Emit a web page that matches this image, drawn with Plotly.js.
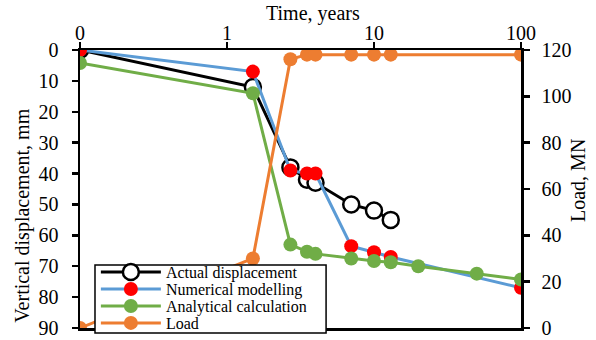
<!DOCTYPE html>
<html>
<head>
<meta charset="utf-8">
<script src="https://cdn.plot.ly/plotly-3.0.1.min.js"></script>
<style>html,body{margin:0;padding:0;background:#fff;}#chart{width:596px;height:340px;}</style>
</head>
<body>
<div id="chart"></div>
<script>
// Data (time in years, displacement in mm, load in MN)
const actualTime = [0.1, 1.5, 2.7, 3.5, 4, 7, 10, 13];
const actualDisp = [0, 12, 38, 42, 43, 50, 52, 55];

const numTime = [0.1, 1.5, 2.7, 3.5, 4, 7, 10, 13, 100];
const numDisp = [0, 7, 39, 40, 40, 63.5, 65.5, 67, 77];

const anaTime = [0.1, 1.5, 2.7, 3.5, 4, 7, 10, 13, 20, 50, 100];
const anaDisp = [4.2, 14, 63, 65.3, 66, 67.5, 68.3, 68.7, 70, 72.4, 74.3];

const loadTime = [0.1, 1.5, 2.7, 3.5, 4, 7, 10, 13, 100];
const loadVal = [0, 30, 116, 118, 118, 118, 118, 118, 118];

const xTickVals = [0.1, 1, 10, 100];
const xTickText = ['0', '1', '10', '100'];

const F = 'Liberation Serif';

const traces = [
  {x: actualTime, y: actualDisp, name: 'Actual displacement', mode: 'lines+markers',
   line: {color: '#000000', width: 3},
   marker: {symbol: 'circle', size: 16, color: '#ffffff', line: {color: '#000000', width: 2.5}},
   xaxis: 'x', yaxis: 'y', legend: 'legend'},
  {x: numTime, y: numDisp, name: 'Numerical modelling', mode: 'lines+markers',
   line: {color: '#5B9BD5', width: 3},
   marker: {symbol: 'circle', size: 14, color: '#FF0000'},
   xaxis: 'x', yaxis: 'y', legend: 'legend2'},
  {x: anaTime, y: anaDisp, name: 'Analytical calculation', mode: 'lines+markers',
   line: {color: '#70AD47', width: 3},
   marker: {symbol: 'circle', size: 14, color: '#70AD47'},
   xaxis: 'x', yaxis: 'y', legend: 'legend3'},
  {x: loadTime, y: loadVal, name: 'Load', mode: 'lines+markers',
   line: {color: '#ED7D31', width: 3},
   marker: {symbol: 'circle', size: 14, color: '#ED7D31'},
   xaxis: 'x', yaxis: 'y2', legend: 'legend4'}
];

const tf = {family: F, size: 20, color: '#000'};
const titleFont = {family: F, size: 20, color: '#000'};
const axLine = {showline: true, linecolor: '#000', linewidth: 2.5, showgrid: false, zeroline: false,
  tickcolor: '#000', tickwidth: 2.5, ticklen: 6};

function legendAt(yPaper) {
  return {x: 0.036, y: yPaper, xanchor: 'left', yanchor: 'middle',
    bgcolor: 'rgba(0,0,0,0)', borderwidth: 0,
    font: {family: F, size: 16, color: '#000'}, itemwidth: 60};
}

const layout = {
  width: 596, height: 340,
  margin: {l: 80, r: 75, t: 50, b: 12, pad: 0, autoexpand: false},
  paper_bgcolor: '#fff', plot_bgcolor: '#fff',
  font: {family: F, size: 20, color: '#000'},
  showlegend: true,
  legend: legendAt(0.201),
  legend2: legendAt(0.140),
  legend3: legendAt(0.079),
  legend4: legendAt(0.018),
  shapes: [{type: 'rect', xref: 'paper', yref: 'paper', x0: 0.034, x1: 0.558, y0: -0.018, y1: 0.227,
    fillcolor: '#ffffff', line: {color: '#000', width: 1.5}, layer: 'above'}],
  annotations: [
    {text: 'Time, years', xref: 'paper', yref: 'paper', x: 0.528, y: 1.133, xanchor: 'center', yanchor: 'middle',
     showarrow: false, font: titleFont},
    {text: 'Vertical displacement, mm', xref: 'paper', yref: 'paper', x: -0.130, y: 0.403, xanchor: 'center', yanchor: 'middle',
     textangle: -90, showarrow: false, font: titleFont},
    {text: 'Load, MN', xref: 'paper', yref: 'paper', x: 1.129, y: 0.532, xanchor: 'center', yanchor: 'middle',
     textangle: -90, showarrow: false, font: titleFont}
  ],
  xaxis: Object.assign({}, axLine, {
    type: 'log', side: 'top', anchor: 'y', range: [-1, 2], mirror: true,
    tickmode: 'array', tickvals: xTickVals, ticktext: xTickText, ticks: 'outside',
    tickfont: tf, ticklabelstandoff: -6, ticklabeloverflow: 'allow'
  }),
  xaxis3: Object.assign({}, axLine, {
    type: 'log', side: 'top', anchor: 'y', overlaying: 'x', range: [-1, 2], showline: false,
    tickmode: 'array', tickvals: xTickVals, ticks: 'inside', showticklabels: false
  }),
  yaxis: Object.assign({}, axLine, {
    range: [90, 0], anchor: 'x', side: 'left', tickmode: 'linear', tick0: 0, dtick: 10,
    ticks: 'outside', tickfont: tf, ticklabelstandoff: 9, ticklabeloverflow: 'allow'
  }),
  yaxis3: Object.assign({}, axLine, {
    range: [90, 0], anchor: 'x', side: 'left', overlaying: 'y', showline: false,
    tickmode: 'linear', tick0: 0, dtick: 10, ticks: 'inside', showticklabels: false
  }),
  yaxis2: Object.assign({}, axLine, {
    range: [0, 120], anchor: 'x', side: 'right', overlaying: 'y',
    tickmode: 'linear', tick0: 0, dtick: 20, ticks: 'outside', tickfont: tf, ticklabelstandoff: 8,
    ticklabeloverflow: 'allow'
  }),
  yaxis4: Object.assign({}, axLine, {
    range: [0, 120], anchor: 'x', side: 'right', overlaying: 'y', showline: false,
    tickmode: 'linear', tick0: 0, dtick: 20, ticks: 'inside', showticklabels: false
  })
};

Plotly.newPlot('chart', traces, layout, {displayModeBar: false, staticPlot: true});
</script>
</body>
</html>
